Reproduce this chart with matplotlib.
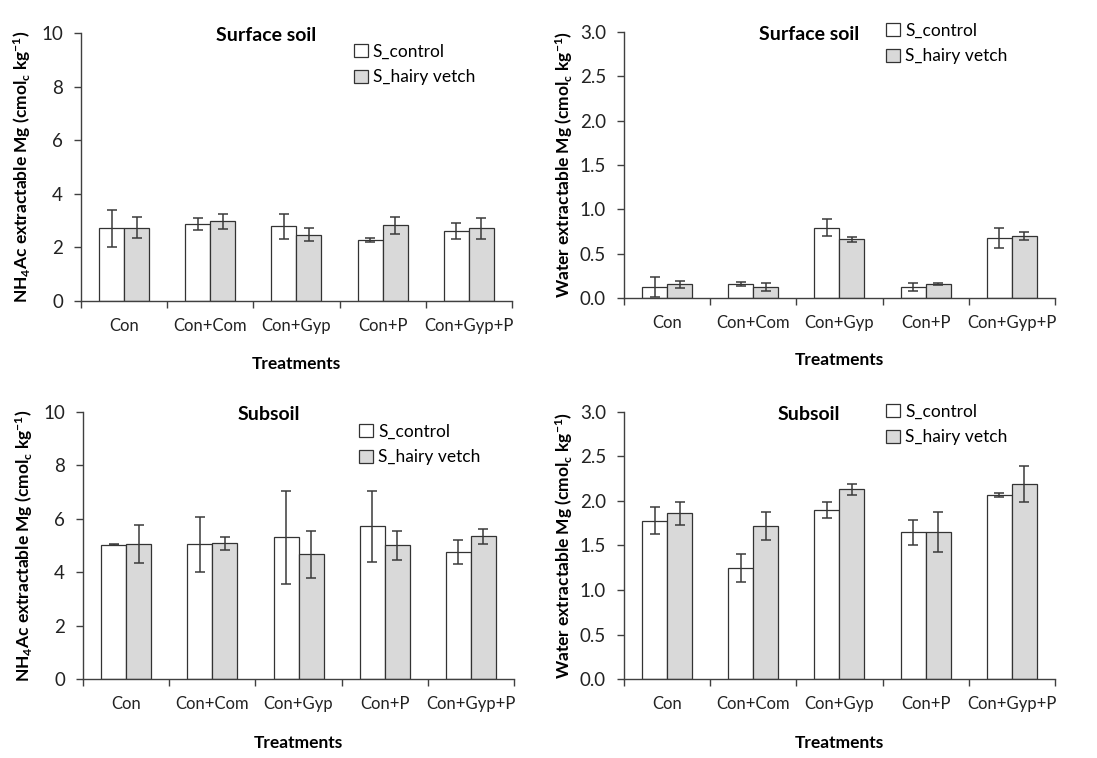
import matplotlib
matplotlib.use("Agg")
import matplotlib.pyplot as plt
import numpy as np

plt.rcParams['font.family'] = ['Lato', 'DejaVu Sans']
plt.rcParams['mathtext.default'] = 'regular'

categories = ["Con", "Con+Com", "Con+Gyp", "Con+P", "Con+Gyp+P"]
series_names = ["S_control", "S_hairy vetch"]

# Surface soil, NH4Ac extractable Mg
surf_nh4_ctrl = [2.71, 2.86, 2.78, 2.27, 2.61]
surf_nh4_ctrl_err = [0.69, 0.22, 0.46, 0.07, 0.29]
surf_nh4_hv = [2.74, 2.97, 2.48, 2.82, 2.71]
surf_nh4_hv_err = [0.38, 0.27, 0.24, 0.32, 0.40]

# Surface soil, water extractable Mg
surf_w_ctrl = [0.124, 0.157, 0.79, 0.124, 0.675]
surf_w_ctrl_err = [0.11, 0.025, 0.096, 0.04, 0.115]
surf_w_hv = [0.157, 0.124, 0.664, 0.157, 0.697]
surf_w_hv_err = [0.04, 0.04, 0.028, 0.015, 0.047]

# Subsoil, NH4Ac extractable Mg
sub_nh4_ctrl = [5.02, 5.04, 5.30, 5.72, 4.77]
sub_nh4_ctrl_err = [0.02, 1.03, 1.74, 1.33, 0.45]
sub_nh4_hv = [5.04, 5.08, 4.67, 5.01, 5.34]
sub_nh4_hv_err = [0.71, 0.24, 0.88, 0.54, 0.28]

# Subsoil, water extractable Mg
sub_w_ctrl = [1.78, 1.25, 1.90, 1.65, 2.07]
sub_w_ctrl_err = [0.15, 0.16, 0.09, 0.14, 0.02]
sub_w_hv = [1.86, 1.72, 2.13, 1.65, 2.19]
sub_w_hv_err = [0.13, 0.16, 0.065, 0.225, 0.205]

nh4_label = r'NH$_4$Ac extractable Mg (cmol$_c$ kg$^{-1}$)'
water_label = r'Water extractable Mg (cmol$_c$ kg$^{-1}$)'

fig = plt.figure(figsize=(10.97, 7.58), dpi=100)

panels = [
    dict(rect=[0.0738, 0.6029, 0.3929, 0.3536], title="Surface soil",
         ctrl=surf_nh4_ctrl, ce=surf_nh4_ctrl_err, hv=surf_nh4_hv, he=surf_nh4_hv_err,
         ylim=(0, 10), yticks=np.arange(0, 11, 2), fmt="{:.0f}", ylabel=nh4_label,
         leg=(0.633, 0.96), ylc=-0.111, xlc=-0.205),
    dict(rect=[0.5688, 0.6069, 0.3929, 0.3509], title="Surface soil",
         ctrl=surf_w_ctrl, ce=surf_w_ctrl_err, hv=surf_w_hv, he=surf_w_hv_err,
         ylim=(0, 3), yticks=np.arange(0, 3.01, 0.5), fmt="{:.1f}", ylabel=water_label,
         leg=(0.608, 1.035), ylc=-0.114, xlc=-0.205),
    dict(rect=[0.0757, 0.1042, 0.3929, 0.3523], title="Subsoil",
         ctrl=sub_nh4_ctrl, ce=sub_nh4_ctrl_err, hv=sub_nh4_hv, he=sub_nh4_hv_err,
         ylim=(0, 10), yticks=np.arange(0, 11, 2), fmt="{:.0f}", ylabel=nh4_label,
         leg=(0.640, 0.956), ylc=-0.111, xlc=-0.21),
    dict(rect=[0.5688, 0.1042, 0.3929, 0.3523], title="Subsoil",
         ctrl=sub_w_ctrl, ce=sub_w_ctrl_err, hv=sub_w_hv, he=sub_w_hv_err,
         ylim=(0, 3), yticks=np.arange(0, 3.01, 0.5), fmt="{:.1f}", ylabel=water_label,
         leg=(0.608, 1.031), ylc=-0.114, xlc=-0.21),
]

x = np.arange(len(categories))
w = 0.29
axis_col = '#404040'
err_kw = dict(ecolor='#3a3a3a', elinewidth=1.1, capsize=3.5, capthick=1.1)

for p in panels:
    ax = fig.add_axes(p['rect'])
    ax.bar(x - w/2, p['ctrl'], w, yerr=p['ce'], color='white', edgecolor='#333333',
           linewidth=0.9, error_kw=err_kw, label=series_names[0], zorder=2)
    ax.bar(x + w/2, p['hv'], w, yerr=p['he'], color='#d9d9d9', edgecolor='#333333',
           linewidth=0.9, error_kw=err_kw, label=series_names[1], zorder=2)
    ax.set_xlim(-0.5, len(categories) - 0.5)
    ax.set_ylim(*p['ylim'])
    ax.set_yticks(p['yticks'])
    ax.set_yticklabels([p['fmt'].format(v) for v in p['yticks']])
    ax.set_xticks(np.arange(-0.5, len(categories), 1.0))
    ax.set_xticklabels([])
    ax.set_xticks(x, minor=True)
    ax.set_xticklabels(categories, minor=True)
    ax.tick_params(axis='x', which='major', length=5, width=1, color=axis_col, direction='out')
    ax.tick_params(axis='x', which='minor', length=0, pad=12, labelsize=12, labelcolor='#222222')
    ax.tick_params(axis='y', length=5, width=1, color=axis_col, pad=8, labelsize=13.5,
                   labelcolor='#222222')
    for s in ['top', 'right']:
        ax.spines[s].set_visible(False)
    for s in ['left', 'bottom']:
        ax.spines[s].set_color(axis_col)
        ax.spines[s].set_linewidth(1.0)
    ax.set_ylabel(p['ylabel'], fontsize=12.5, fontweight='bold')
    ax.yaxis.set_label_coords(p['ylc'], 0.5)
    ax.set_xlabel("Treatments", fontsize=12.5, fontweight='bold')
    ax.xaxis.set_label_coords(0.5, p['xlc'])
    ax.text(0.43, 0.99, p['title'], transform=ax.transAxes, ha='center', va='center',
            fontsize=14, fontweight='bold')
    ax.legend(loc='upper left', bbox_to_anchor=p['leg'], frameon=False, fontsize=12.5,
              borderpad=0, borderaxespad=0, handlelength=0.8, handleheight=0.8,
              handletextpad=0.3, labelspacing=0.55)

fig.savefig("out.png", dpi=100)
